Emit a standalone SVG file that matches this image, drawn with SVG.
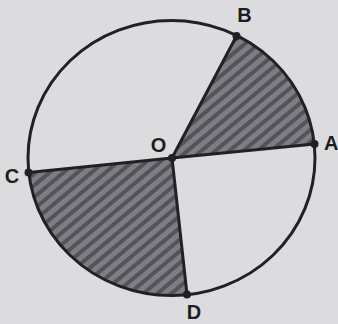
<svg xmlns="http://www.w3.org/2000/svg" width="338" height="324" viewBox="0 0 338 324">
<style>
.ln{stroke:#222026;stroke-width:3;fill:none;stroke-linecap:round}
.dot{fill:#222026}
.lbl{font-family:"Liberation Sans",Arial,sans-serif;font-weight:bold;font-size:20px;fill:#1e1d22}
.sh{fill:url(#hatch);stroke:none}
</style>
<defs>
<pattern id="hatch" patternUnits="userSpaceOnUse" width="9" height="9" patternTransform="rotate(-40)">
<rect width="9" height="9" fill="#7e7d84"/>
<rect width="9" height="4" fill="#54535a"/>
</pattern>
</defs>
<rect width="338" height="324" fill="#dcdcdf"/>
<g id="sectors">
<path id="sector-AOB" class="sh" d="M172,158 L314.5,144 A143.5,137.5 0 0 0 236.5,36 Z"/>
<path id="sector-COD" class="sh" d="M172,158 L28.5,172.5 A143.5,137.5 0 0 0 187,294.5 Z"/>
</g>
<g id="circle">
<ellipse class="ln" cx="171.5" cy="158" rx="143.5" ry="137.5"/>
</g>
<g id="connectors">
<line class="ln" x1="172" y1="158" x2="314.5" y2="144"/>
<line class="ln" x1="172" y1="158" x2="236.5" y2="36"/>
<line class="ln" x1="172" y1="158" x2="28.5" y2="172.5"/>
<line class="ln" x1="172" y1="158" x2="187" y2="294.5"/>
</g>
<g id="O"><circle class="dot" cx="172" cy="158" r="4"/><text class="lbl" x="158.5" y="151.5" text-anchor="middle">O</text></g>
<g id="A"><circle class="dot" cx="314.5" cy="144" r="4"/><text class="lbl" x="324" y="149.5">A</text></g>
<g id="B"><circle class="dot" cx="236.5" cy="36" r="4"/><text class="lbl" x="244.5" y="22" text-anchor="middle">B</text></g>
<g id="C"><circle class="dot" cx="28.5" cy="172.5" r="4"/><text class="lbl" x="12" y="182.5" text-anchor="middle">C</text></g>
<g id="D"><circle class="dot" cx="187" cy="294.5" r="4"/><text class="lbl" x="194" y="319" text-anchor="middle">D</text></g>
</svg>
